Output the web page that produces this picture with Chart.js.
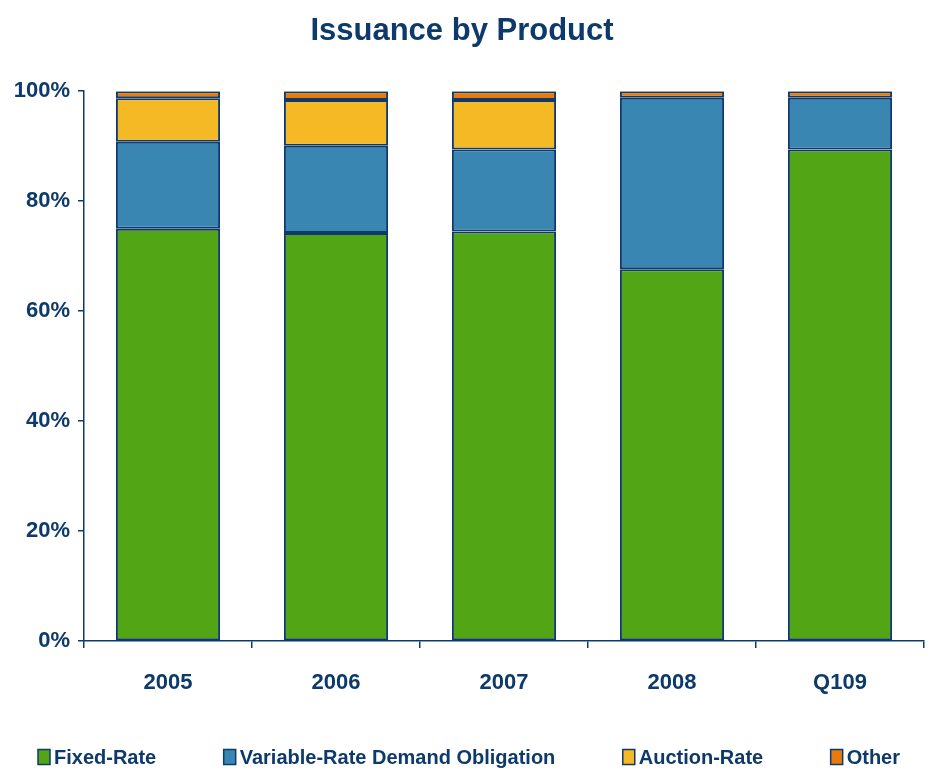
<!DOCTYPE html>
<html lang="en">
<head>
<meta charset="UTF-8">
<title>Issuance by Product</title>
<script src="https://cdn.jsdelivr.net/npm/chart.js"></script>
<style>
  html, body { margin: 0; padding: 0; background: #ffffff; }
  #wrap { width: 929px; height: 770px; }
</style>
</head>
<body>
<div id="wrap"><canvas id="grafico" width="929" height="770"></canvas></div>
<script>
// categories and series (percent of issuance)
const anos = ['2005', '2006', '2007', '2008', 'Q109'];
const fixedRate = [75.0, 74.2, 74.5, 67.6, 89.4];
const vrdo = [15.8, 15.9, 14.9, 31.2, 9.4];
const auctionRate = [7.9, 8.3, 9.0, 0, 0];
const other = [1.3, 1.6, 1.6, 1.2, 1.2];
const yTicks = [0, 20, 40, 60, 80, 100];

const navy = '#0d3a6b';
const fonte = '"Liberation Sans", Arial, sans-serif';

function serie(label, data, cor) {
    return {
        label: label,
        data: data,
        backgroundColor: cor,
        borderColor: navy,
        borderWidth: 2,
        borderSkipped: false,
        categoryPercentage: 1.0,
        barPercentage: 0.62
    };
}

const dados = {
    labels: anos,
    datasets: [
        serie('Fixed-Rate', fixedRate, '#52a615'),
        serie('Variable-Rate Demand Obligation', vrdo, '#3a86b2'),
        serie('Auction-Rate', auctionRate, '#f6b926'),
        serie('Other', other, '#e97a0e')
    ]
};

// legenda desenhada na parte de baixo, espalhada na largura toda
const legendaEspalhada = {
    id: 'legendaEspalhada',
    afterDraw: function (chart) {
        const ctx = chart.ctx;
        const ds = chart.data.datasets;
        const inicio = 38, fim = 900, y = 757;
        const box = 12, boxH = 15, gapTexto = 4;
        ctx.save();
        ctx.font = 'bold 20px ' + fonte;
        ctx.textBaseline = 'middle';
        let larguras = ds.map(function (d) { return box + gapTexto + ctx.measureText(d.label).width; });
        let soma = larguras.reduce(function (a, b) { return a + b; }, 0);
        let gap = (fim - inicio - soma) / (ds.length - 1);
        let x = inicio;
        ds.forEach(function (d, i) {
            ctx.fillStyle = d.backgroundColor;
            ctx.fillRect(x, y - boxH / 2, box, boxH);
            ctx.strokeStyle = navy;
            ctx.lineWidth = 1.5;
            ctx.strokeRect(x, y - boxH / 2, box, boxH);
            ctx.fillStyle = navy;
            ctx.fillText(d.label, x + box + gapTexto, y + 1);
            x += larguras[i] + gap;
        });
        ctx.restore();
    }
};

const config = {
    type: 'bar',
    data: dados,
    plugins: [legendaEspalhada],
    options: {
        responsive: false,
        animation: false,
        layout: { padding: { left: 0, right: 5, top: 0, bottom: 33 } },
        plugins: {
            title: {
                display: true,
                text: 'Issuance by Product',
                color: navy,
                font: { family: fonte, size: 31, weight: 'bold' },
                padding: { top: 13, bottom: 41 }
            },
            legend: { display: false },
            tooltip: { enabled: false }
        },
        scales: {
            x: {
                stacked: true,
                grid: {
                    offset: true,
                    drawOnChartArea: false,
                    drawTicks: true,
                    tickLength: 7,
                    color: navy,
                    lineWidth: 1.5
                },
                border: { color: navy, width: 1.5 },
                ticks: {
                    color: navy,
                    font: { family: fonte, size: 22, weight: 'bold' },
                    padding: 22
                },
                afterFit: function (scale) { scale.height = 96; }
            },
            y: {
                stacked: true,
                min: 0,
                max: 100,
                grid: {
                    drawOnChartArea: false,
                    drawTicks: true,
                    tickLength: 6,
                    color: navy,
                    lineWidth: 1.5
                },
                border: { color: navy, width: 1.5 },
                afterBuildTicks: function (scale) {
                    scale.ticks = yTicks.map(function (v) { return { value: v }; });
                },
                ticks: {
                    color: navy,
                    font: { family: fonte, size: 22, weight: 'bold' },
                    padding: 8,
                    callback: function (v) { return v + '%'; }
                },
                afterFit: function (scale) { scale.width = 84; }
            }
        }
    }
};

let grafico = new Chart(document.getElementById('grafico'), config);
</script>
</body>
</html>
